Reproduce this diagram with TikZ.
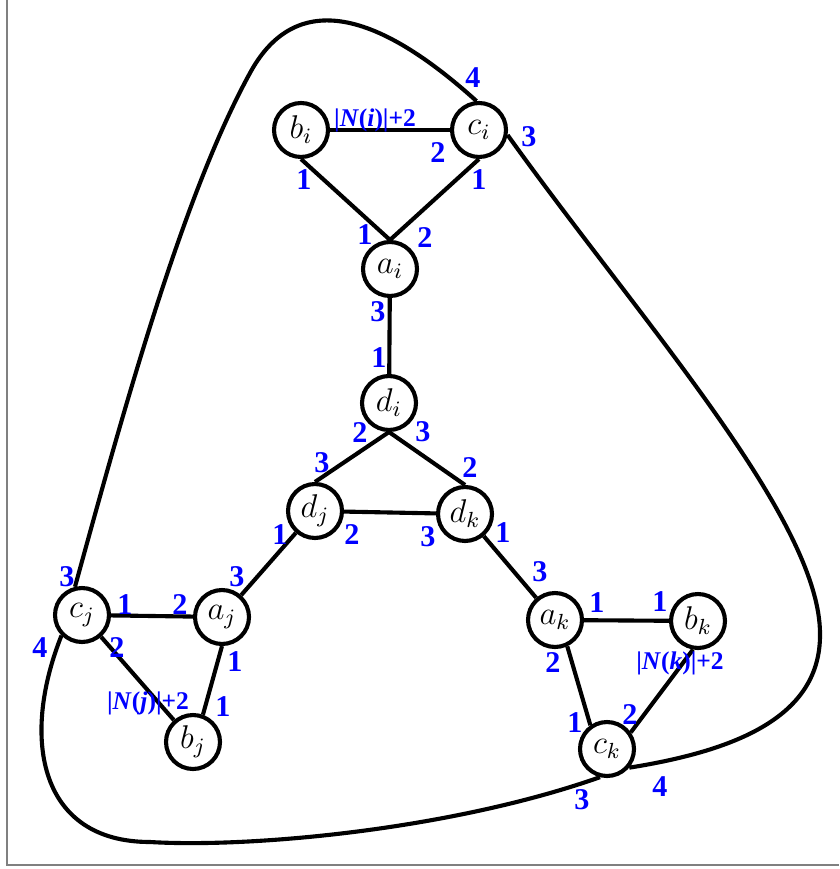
\documentclass[tikz,border=0pt]{standalone}
\usepackage{fontspec}
\newfontfamily\portfont{Liberation Serif}
\definecolor{portblue}{RGB}{0,0,255}
\tikzset
{
    vertex/.style = {circle, draw=black, fill=white, line width=1.5pt, inner sep=0pt, minimum size=19.7pt, font=\fontsize{12}{14}\selectfont},
    port/.style   = {text=portblue, inner sep=0pt, font=\portfont\bfseries\fontsize{11}{12}\selectfont},
    nport/.style  = {text=portblue, inner sep=0pt, font=\portfont\bfseries\fontsize{9.3}{10}\selectfont}
}

\begin{document}
\begin{tikzpicture}[x=0.365pt, y=-0.365pt, line width=1.5pt]
\useasboundingbox (0,0) rectangle (839,869);
\draw[gray, line width=0.4pt] (7,0) -- (7,865) -- (839,865);
% gadget i
\node [vertex] at (301,130) (bi) {$b_i$};
\node [vertex] at (479,130) (ci) {$c_i$};
\node [vertex] at (390,269) (ai) {$a_i$};
% middle triangle
\node [vertex] at (389,403) (di) {$d_i$};
\node [vertex] at (315,511) (dj) {$d_j$};
\node [vertex] at (465,514) (dk) {$d_k$};
% gadget j
\node [vertex] at (82,615) (cj) {$c_j$};
\node [vertex] at (222,617) (aj) {$a_j$};
\node [vertex] at (193,742) (bj) {$b_j$};
% gadget k
\node [vertex] at (555,620) (ak) {$a_k$};
\node [vertex] at (698,621) (bk) {$b_k$};
\node [vertex] at (607,749) (ck) {$c_k$};
\draw (bi) -- (ci);
\draw (bi.south) -- (ai.north);
\draw (ci.south) -- (ai.north);
\draw (ai) -- (di);
\draw (di.south) -- (dj.north);
\draw (di.south) -- (dk.north);
\draw (dj) -- (dk);
\draw (dj) -- (aj);
\draw (dk) -- (ak);
\draw (cj) -- (aj);
\draw (cj) -- (bj);
\draw (aj.south) -- (bj.70);
\draw (ak) -- (bk);
\draw (ak.-65) -- (ck.125);
\draw (bk.-100) -- (ck.35);
% outer loop through the c nodes
\draw (ci.-10) .. controls (640,320) and (821,520) .. (820,635)
      .. controls (820,715) and (740,750) .. (ck.-40);
\draw (ck.-104) .. controls (450,830) and (250,848) .. (150,842)
      .. controls (40,842) and (20,740) .. (cj.-135);
\draw (cj.104) .. controls (125,405) and (183,195) .. (250,73)
      .. controls (288,3) and (358,-6) .. (ci.95);
% port numbers
\node [port] at (473,78) (pci4) {4};
\node [port] at (529,137) (pci3) {3};
\node [nport] at (375,120) (nbi) {|\textit{N}(\textit{i})|+2};
\node [port] at (438,153) (pci2) {2};
\node [port] at (479,180) (pci1) {1};
\node [port] at (304,180) (pbi1) {1};
\node [port] at (365,235) (pai1) {1};
\node [port] at (425,238) (pai2) {2};
\node [port] at (378,312) (pai3) {3};
\node [port] at (379,358) (pdi1) {1};
\node [port] at (360,433) (pdi2) {2};
\node [port] at (423,432) (pdi3) {3};
\node [port] at (322,463) (pdj3) {3};
\node [port] at (470,468) (pdk2) {2};
\node [port] at (280,535) (pdj1) {1};
\node [port] at (352,535) (pdj2) {2};
\node [port] at (428,537) (pdk3) {3};
\node [port] at (503,533) (pdk1) {1};
\node [port] at (67,577) (pcj3) {3};
\node [port] at (125,605) (pcj1) {1};
\node [port] at (180,605) (paj2) {2};
\node [port] at (237,577) (paj3) {3};
\node [port] at (40,648) (pcj4) {4};
\node [port] at (117,648) (pcj2) {2};
\node [port] at (235,662) (paj1) {1};
\node [nport] at (148,703) (nbj) {|\textit{N}(\textit{j})|+2};
\node [port] at (223,707) (pbj1) {1};
\node [port] at (540,572) (pak3) {3};
\node [port] at (597,603) (pak1) {1};
\node [port] at (660,602) (pbk1) {1};
\node [port] at (553,663) (pak2) {2};
\node [nport] at (680,663) (nbk) {|\textit{N}(\textit{k})|+2};
\node [port] at (575,723) (pck1) {1};
\node [port] at (630,715) (pck2) {2};
\node [port] at (660,787) (pck4) {4};
\node [port] at (582,800) (pck3) {3};
\end{tikzpicture}
\end{document}
